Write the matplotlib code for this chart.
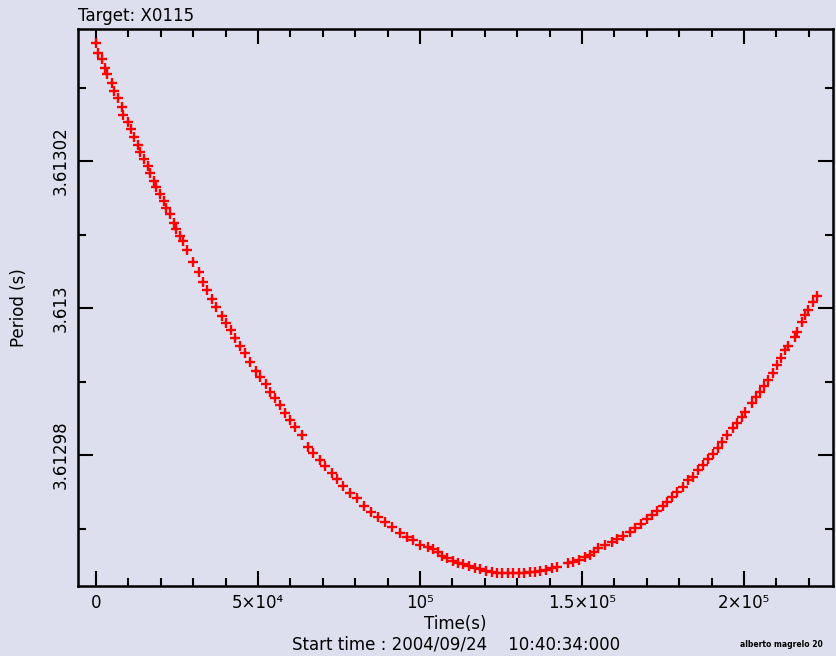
import numpy as np
import matplotlib
matplotlib.use("Agg")
import matplotlib.pyplot as plt
from matplotlib.ticker import MultipleLocator, FixedLocator

# time since start (ks) and period offset from 3.613 s (microseconds)
time_ks = [0.0, 0.62, 1.76, 2.78, 3.49, 4.85, 5.55, 6.79, 8.02, 8.42,
           9.88, 10.71, 11.63, 12.96, 13.58, 14.81, 16.05, 16.76, 17.90, 18.61,
           19.75, 20.89, 21.69, 22.84, 24.07, 24.69, 25.92, 26.76, 28.17, 29.84,
           31.88, 33.11, 34.16, 35.89, 37.03, 38.79, 40.03, 41.57, 42.90, 44.44,
           45.98, 47.52, 49.38, 50.61, 52.37, 53.70, 55.24, 56.78, 58.33, 59.87,
           61.41, 63.48, 65.52, 67.06, 69.13, 70.67, 72.74, 74.47, 76.13, 78.38,
           80.45, 82.70, 84.77, 87.12, 89.19, 91.25, 93.81, 95.88, 97.92, 99.99,
           102.55, 104.09, 105.39, 106.68, 108.23, 110.08, 111.81, 113.35, 115.20, 116.96,
           118.50, 120.35, 122.11, 123.66, 125.39, 127.05, 128.78, 130.54, 132.17, 133.93,
           135.48, 137.02, 138.87, 140.63, 142.17,
           145.75, 147.30, 149.15, 150.91, 152.45, 153.68, 155.01, 157.08, 159.14, 160.69,
           162.73, 164.79, 166.34, 168.10, 169.94, 171.49, 173.03, 174.88, 176.30, 177.66,
           179.39, 181.24, 182.78, 184.33, 185.87, 187.41, 188.96, 190.41, 191.95, 193.19,
           194.73, 196.49, 197.72, 199.27, 200.28, 202.35, 203.65, 204.91, 206.14, 207.47,
           208.83, 210.06, 211.30, 212.62, 213.64, 215.71, 216.42, 217.78, 218.79, 219.81,
           221.36, 222.59]
dperiod_us = [36.01, 34.73, 33.84, 32.61, 31.84, 30.57, 29.52, 28.53, 27.31, 26.26,
              25.35, 24.39, 23.31, 22.18, 21.22, 20.31, 19.32, 18.33, 17.28, 16.50,
              15.51, 14.60, 13.56, 12.79, 11.61, 10.75, 9.84, 9.12, 7.89, 6.30,
              4.94, 3.58, 2.45, 1.18, 0.10, -1.09, -2.08, -2.99, -4.12, -5.17,
              -6.16, -7.31, -8.53, -9.35, -10.34, -11.39, -12.29, -13.20, -14.24, -15.24,
              -16.15, -17.28, -18.87, -19.77, -20.68, -21.50, -22.49, -23.31, -24.22, -25.13,
              -25.89, -26.94, -27.71, -28.48, -29.07, -29.84, -30.57, -31.11, -31.56, -32.28,
              -32.56, -32.83, -33.20, -33.74, -34.05, -34.38, -34.65, -34.83, -35.06, -35.41,
              -35.55, -35.78, -35.96, -36.01, -36.01, -36.01, -36.01, -36.01, -36.01, -35.96,
              -35.88, -35.78, -35.65, -35.41, -35.20,
              -34.65, -34.52, -34.28, -33.92, -33.60, -33.20, -32.69, -32.24, -31.80, -31.47,
              -31.02, -30.43, -29.97, -29.39, -28.75, -28.16, -27.58, -26.94, -26.35, -25.75,
              -24.99, -24.31, -23.40, -22.95, -22.04, -21.36, -20.58, -19.86, -19.05, -18.23,
              -17.28, -16.37, -15.60, -14.79, -14.11, -12.88, -12.11, -11.39, -10.61, -9.80,
              -8.88, -7.75, -6.84, -5.71, -5.17, -3.99, -3.22, -1.86, -0.95, -0.27,
              0.86, 1.63]

xticks = [0, 5e4, 1e5, 1.5e5, 2e5]
xticklabels = ["0", "5×10⁴", "10⁵", "1.5×10⁵", "2×10⁵"]
yticks = [3.61298, 3.613, 3.61302]
yticklabels = ["3.61298", "3.613", "3.61302"]

t = np.array(time_ks) * 1000.0
p = 3.613 + np.array(dperiod_us) * 1e-6

bg = "#dedfee"
fig = plt.figure(figsize=(8.36, 6.56), dpi=100, facecolor=bg)
ax = fig.add_axes([0.0933, 0.1067, 0.9031, 0.8491])
ax.set_facecolor(bg)

ax.plot(t, p, "r+", markersize=7.5, markeredgewidth=1.7)

ax.set_xlim(-5555, 227440)
ax.set_ylim(3.613 - 37.82e-6, 3.613 + 37.96e-6)

ax.xaxis.set_major_locator(FixedLocator(xticks))
ax.set_xticklabels(xticklabels, fontsize=12)
ax.xaxis.set_minor_locator(MultipleLocator(1e4))
ax.yaxis.set_major_locator(FixedLocator(yticks))
ax.set_yticklabels(yticklabels, fontsize=12, rotation=90, va="center")
ax.yaxis.set_minor_locator(MultipleLocator(1e-5))

ax.tick_params(which="both", direction="in", top=True, right=True, width=1.5, color="black")
ax.tick_params(which="major", length=11, pad=6)
ax.tick_params(which="minor", length=6)
ax.tick_params(axis="y", pad=6)
for s in ax.spines.values():
    s.set_linewidth(1.8)

ax.set_ylabel("Period (s)", fontsize=12)
ax.yaxis.set_label_coords(-0.066, 0.5)
ax.set_xlabel("Time(s)", fontsize=12, labelpad=2)
fig.text(0.0933, 0.975, "Target: X0115", fontsize=12, ha="left", va="center")
fig.text(0.545, 0.017, "Start time : 2004/09/24    10:40:34:000", fontsize=12, ha="center", va="center")
fig.text(0.885, 0.017, "alberto magrelo 20", fontsize=5.5, fontweight="bold", ha="left", va="center")

fig.savefig("out.png", dpi=100, facecolor=bg)
